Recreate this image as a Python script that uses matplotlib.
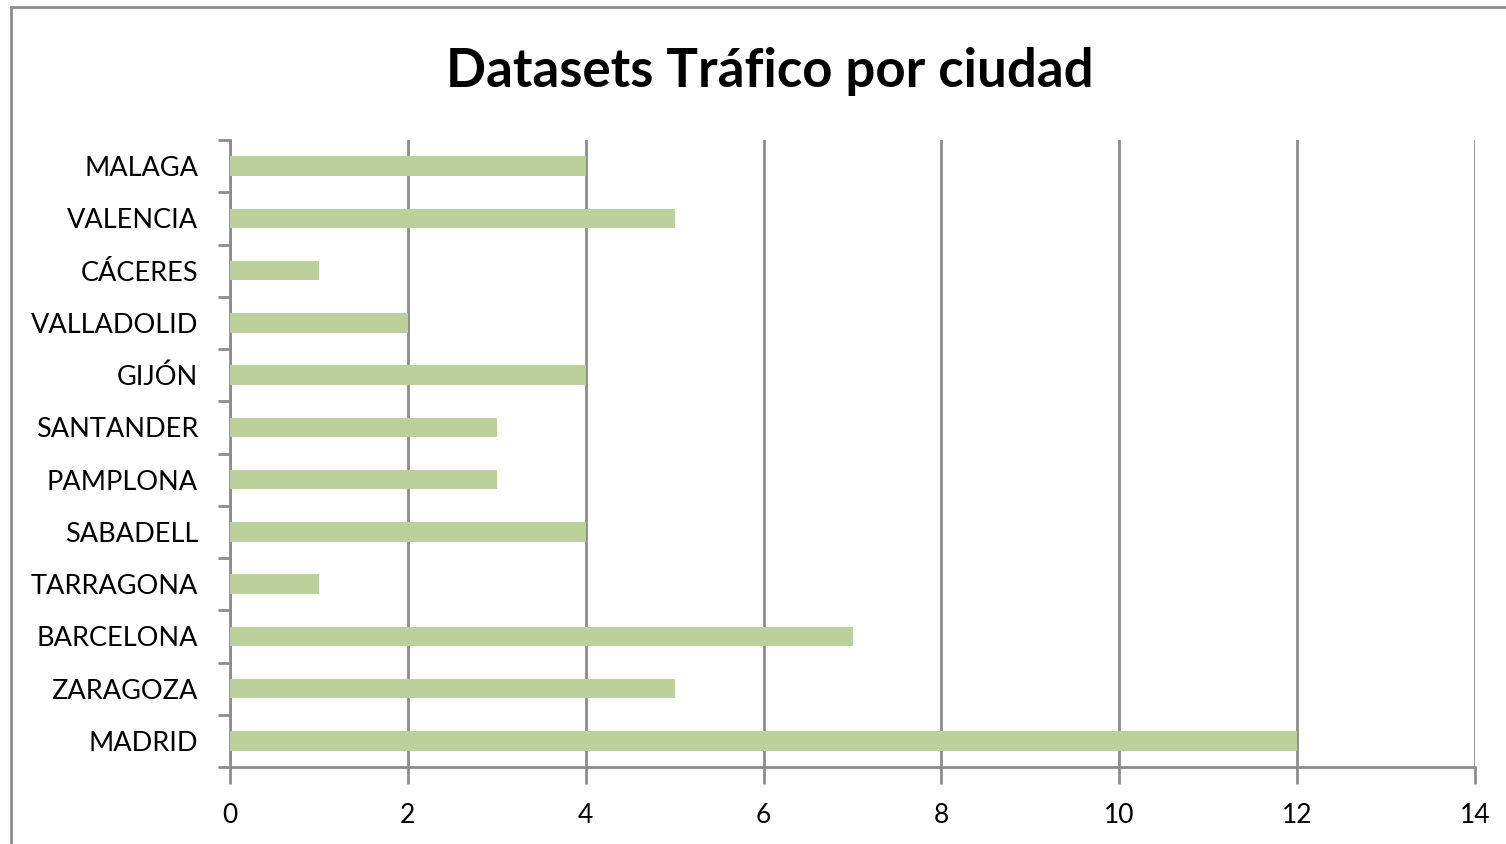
import matplotlib
matplotlib.use("Agg")
import matplotlib.pyplot as plt
from matplotlib.patches import Rectangle
from matplotlib.ticker import FixedLocator

cities = ["MADRID", "ZARAGOZA", "BARCELONA", "TARRAGONA", "SABADELL", "PAMPLONA",
          "SANTANDER", "GIJÓN", "VALLADOLID", "CÁCERES", "VALENCIA", "MALAGA"]
datasets = [12, 5, 7, 1, 4, 3, 3, 4, 2, 1, 5, 4]

plt.rcParams['font.family'] = ['Lato', 'DejaVu Sans']

W, H = 1506, 844
fig = plt.figure(figsize=(W / 100, H / 100), dpi=100)
ax = fig.add_axes([230 / W, 1 - 767 / H, (1475 - 230) / W, (767 - 140) / H])

# outer chart border (only top and left visible in the crop)
fig.patches.append(Rectangle((11 / W, -0.1), 1.2, 1 - 7 / H + 0.1,
                             transform=fig.transFigure, fill=False,
                             edgecolor='#8c8c8c', linewidth=2))

ypos = list(range(len(cities)))
ax.barh(ypos, datasets, height=0.37, color='#bbd09a', zorder=3)

ax.set_xlim(0, 14)
ax.set_ylim(-0.5, len(cities) - 0.5)
ax.set_xticks(range(0, 15, 2))
ax.set_yticks(ypos)
ax.set_yticklabels(cities, va='center_baseline')
ax.yaxis.set_minor_locator(FixedLocator([i - 0.5 for i in range(len(cities) + 1)]))

ax.grid(axis='x', color='#8c8c8c', linewidth=2, zorder=0)
for s in ['top', 'right']:
    ax.spines[s].set_visible(False)
for s in ['left', 'bottom']:
    ax.spines[s].set_color('#8c8c8c')
    ax.spines[s].set_linewidth(2)

ax.tick_params(axis='y', which='major', length=0, pad=23, labelsize=19.5)
ax.tick_params(axis='y', which='minor', length=9, width=2, color='#8c8c8c')
ax.tick_params(axis='x', length=12, width=2, color='#8c8c8c', pad=14, labelsize=19)

fig.text(770 / W, 1 - 72 / H, "Datasets Tráfico por ciudad", ha='center', va='center',
         fontsize=38, fontweight='bold')

fig.savefig("out.png", dpi=100)
